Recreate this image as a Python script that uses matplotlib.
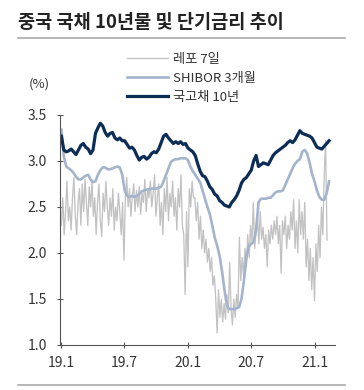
import numpy as np
import pandas as pd
import matplotlib
matplotlib.use('Agg')
import matplotlib.pyplot as plt
import matplotlib.dates as mdates

plt.rcParams['font.family'] = ['Noto Sans CJK KR', 'DejaVu Sans']

# 국고채 10년 / SHIBOR 3개월 (weekly)
week_dates = pd.date_range('2019-01-02', periods=111, freq='7D')
bond10y = [3.27, 3.12, 3.10, 3.11, 3.13, 3.10, 3.07, 3.12, 3.17, 3.19,
           3.15, 3.13, 3.08, 3.12, 3.30, 3.36, 3.41, 3.38, 3.31, 3.27,
           3.30, 3.31, 3.25, 3.23, 3.25, 3.22, 3.22, 3.18, 3.14, 3.15,
           3.12, 3.06, 3.01, 3.04, 3.05, 3.02, 3.04, 3.08, 3.10, 3.09,
           3.13, 3.20, 3.27, 3.29, 3.25, 3.22, 3.19, 3.21, 3.19, 3.21,
           3.18, 3.19, 3.14, 3.12, 3.10, 3.06, 2.97, 2.89, 2.84, 2.83,
           2.78, 2.72, 2.69, 2.64, 2.62, 2.57, 2.55, 2.52, 2.51, 2.50,
           2.55, 2.58, 2.62, 2.68, 2.76, 2.80, 2.82, 2.86, 2.90, 3.00,
           3.06, 2.94, 2.96, 2.98, 2.97, 2.96, 3.01, 3.06, 3.09, 3.11,
           3.13, 3.15, 3.17, 3.20, 3.22, 3.20, 3.23, 3.28, 3.33, 3.30,
           3.29, 3.28, 3.27, 3.25, 3.20, 3.15, 3.14, 3.13, 3.16, 3.19,
           3.22]
shibor3m = [3.34, 3.05, 2.94, 2.92, 2.90, 2.87, 2.83, 2.80, 2.80, 2.82,
            2.84, 2.85, 2.80, 2.77, 2.78, 2.85, 2.90, 2.93, 2.93, 2.91,
            2.91, 2.92, 2.93, 2.94, 2.93, 2.85, 2.68, 2.62, 2.61, 2.62,
            2.61, 2.62, 2.64, 2.67, 2.68, 2.69, 2.69, 2.70, 2.70, 2.70,
            2.71, 2.72, 2.78, 2.85, 2.92, 2.99, 3.01, 3.02, 3.02, 3.03,
            3.03, 3.03, 3.01, 2.94, 2.89, 2.85, 2.81, 2.77, 2.68, 2.59,
            2.50, 2.42, 2.30, 2.17, 2.08, 1.97, 1.80, 1.60, 1.43, 1.39,
            1.39, 1.39, 1.40, 1.41, 1.50, 1.70, 1.95, 2.07, 2.10, 2.12,
            2.25, 2.55, 2.59, 2.59, 2.59, 2.60, 2.60, 2.63, 2.66, 2.67,
            2.67, 2.68, 2.74, 2.80, 2.86, 2.92, 2.97, 3.00, 3.02, 3.10,
            3.12, 3.08, 2.98, 2.86, 2.78, 2.68, 2.61, 2.58, 2.58, 2.65,
            2.78]

# 레포 7일 (every 4 days)
repo_dates = pd.date_range('2019-01-02', periods=192, freq='4D')
repo7d = [2.30, 2.60, 2.20, 2.45, 2.78, 2.35, 2.50, 2.25,
          2.60, 2.82, 2.40, 2.20, 2.55, 2.70, 2.30, 2.75,
          2.45, 2.80, 2.55, 2.30, 2.72, 2.50, 2.78, 2.40,
          2.60, 2.20, 2.55, 2.75, 2.35, 2.18, 2.65, 2.45,
          2.78, 2.50, 2.30, 2.60, 2.40, 2.70, 2.25, 2.50,
          2.35, 2.65, 2.45, 2.20, 2.55, 1.92, 2.60, 2.82,
          2.50, 2.70, 2.40, 2.62, 2.75, 2.45, 2.68, 2.50,
          2.72, 2.42, 2.65, 2.55, 2.80, 2.45, 2.70, 2.60,
          2.78, 2.50, 2.65, 2.85, 2.40, 2.60, 2.75, 2.30,
          2.55, 2.20, 2.70, 2.45, 2.82, 2.35, 2.65, 2.50,
          2.78, 2.40, 2.60, 2.25, 2.70, 2.50, 2.85, 2.30,
          2.20, 1.55, 2.45, 1.85, 2.70, 2.50, 2.78, 2.60,
          2.60, 2.35, 2.55, 2.15, 2.40, 2.05, 2.25, 2.00,
          2.15, 1.90, 2.05, 1.80, 1.95, 1.65, 1.75, 1.50,
          1.13, 1.60, 1.30, 1.50, 1.25, 1.45, 1.28, 1.55,
          1.35, 1.90, 1.40, 1.22, 1.50, 1.30, 1.55, 1.40,
          2.17, 1.70, 1.95, 1.75, 2.05, 1.85, 2.20, 1.95,
          2.30, 2.10, 2.55, 2.05, 2.25, 2.40, 2.10, 2.45,
          2.15, 2.28, 2.05, 2.20, 1.85, 2.25, 2.10, 2.30,
          2.15, 2.35, 2.20, 2.40, 2.10, 2.30, 1.78, 2.35,
          2.20, 2.40, 2.05, 2.30, 2.15, 2.45, 2.25, 2.58,
          2.05, 2.35, 2.00, 2.58, 2.20, 2.45, 2.15, 2.55,
          1.85, 2.15, 1.70, 2.05, 1.60, 1.95, 1.48, 2.10,
          1.80, 2.30, 1.95, 2.50, 2.20, 2.85, 3.22, 2.14]

tick_dates = pd.to_datetime(['2019-01-01', '2019-07-01', '2020-01-01',
                             '2020-07-01', '2021-01-01'])
tick_labels = ['19.1', '19.7', '20.1', '20.7', '21.1']
y_ticks = [1.0, 1.5, 2.0, 2.5, 3.0, 3.5]

fig = plt.figure(figsize=(3.64, 3.90), dpi=100)
ax = fig.add_axes([60/364, 1-345/390, 275/364, 230/390])

ax.plot(repo_dates, repo7d, color='#c2c2c2', lw=0.95, label='레포 7일')
ax.plot(week_dates, shibor3m, color='#a3b4cc', lw=1.9, label='SHIBOR 3개월')
ax.plot(week_dates, bond10y, color='#0c2d55', lw=2.3, label='국고채 10년')

ax.set_ylim(1.0, 3.5)
ax.set_xlim(pd.Timestamp('2018-12-29'), pd.Timestamp('2021-02-27'))
ax.set_yticks(y_ticks)
ax.set_yticklabels([f'{v:.1f}' for v in y_ticks])
ax.set_xticks(mdates.date2num(tick_dates))
ax.set_xticklabels(tick_labels)

for s in ['top', 'right']:
    ax.spines[s].set_visible(False)
for s in ['left', 'bottom']:
    ax.spines[s].set_color('#555555')
    ax.spines[s].set_linewidth(0.8)
ax.tick_params(direction='inout', length=4.5, width=0.8, color='#555555',
               labelsize=10, labelcolor='#333333')
ax.tick_params(axis='y', pad=7)
ax.tick_params(axis='x', pad=6)

fig.text(18/364, 1-22/390, '중국 국채 10년물 및 단기금리 추이', fontsize=13.4,
         fontweight='bold', color='#222222', va='center', ha='left')
fig.add_artist(plt.Line2D([18/364, 345/364], [1-38/390, 1-38/390],
                          color='#aaaaaa', lw=1.2))
fig.add_artist(plt.Line2D([18/364, 345/364], [1-385/390, 1-385/390],
                          color='#aaaaaa', lw=1.2))
fig.text(39/364, 1-84/390, '(%)', fontsize=9.5, color='#333333',
         ha='center', va='center')

fig.legend(loc='upper left', bbox_to_anchor=(127/364, 1-53/390),
           frameon=False, fontsize=9.5, handlelength=3.1, handletextpad=0.4,
           labelspacing=0.45, borderpad=0, borderaxespad=0,
           labelcolor='#333333')

fig.savefig('out.png', dpi=100)
